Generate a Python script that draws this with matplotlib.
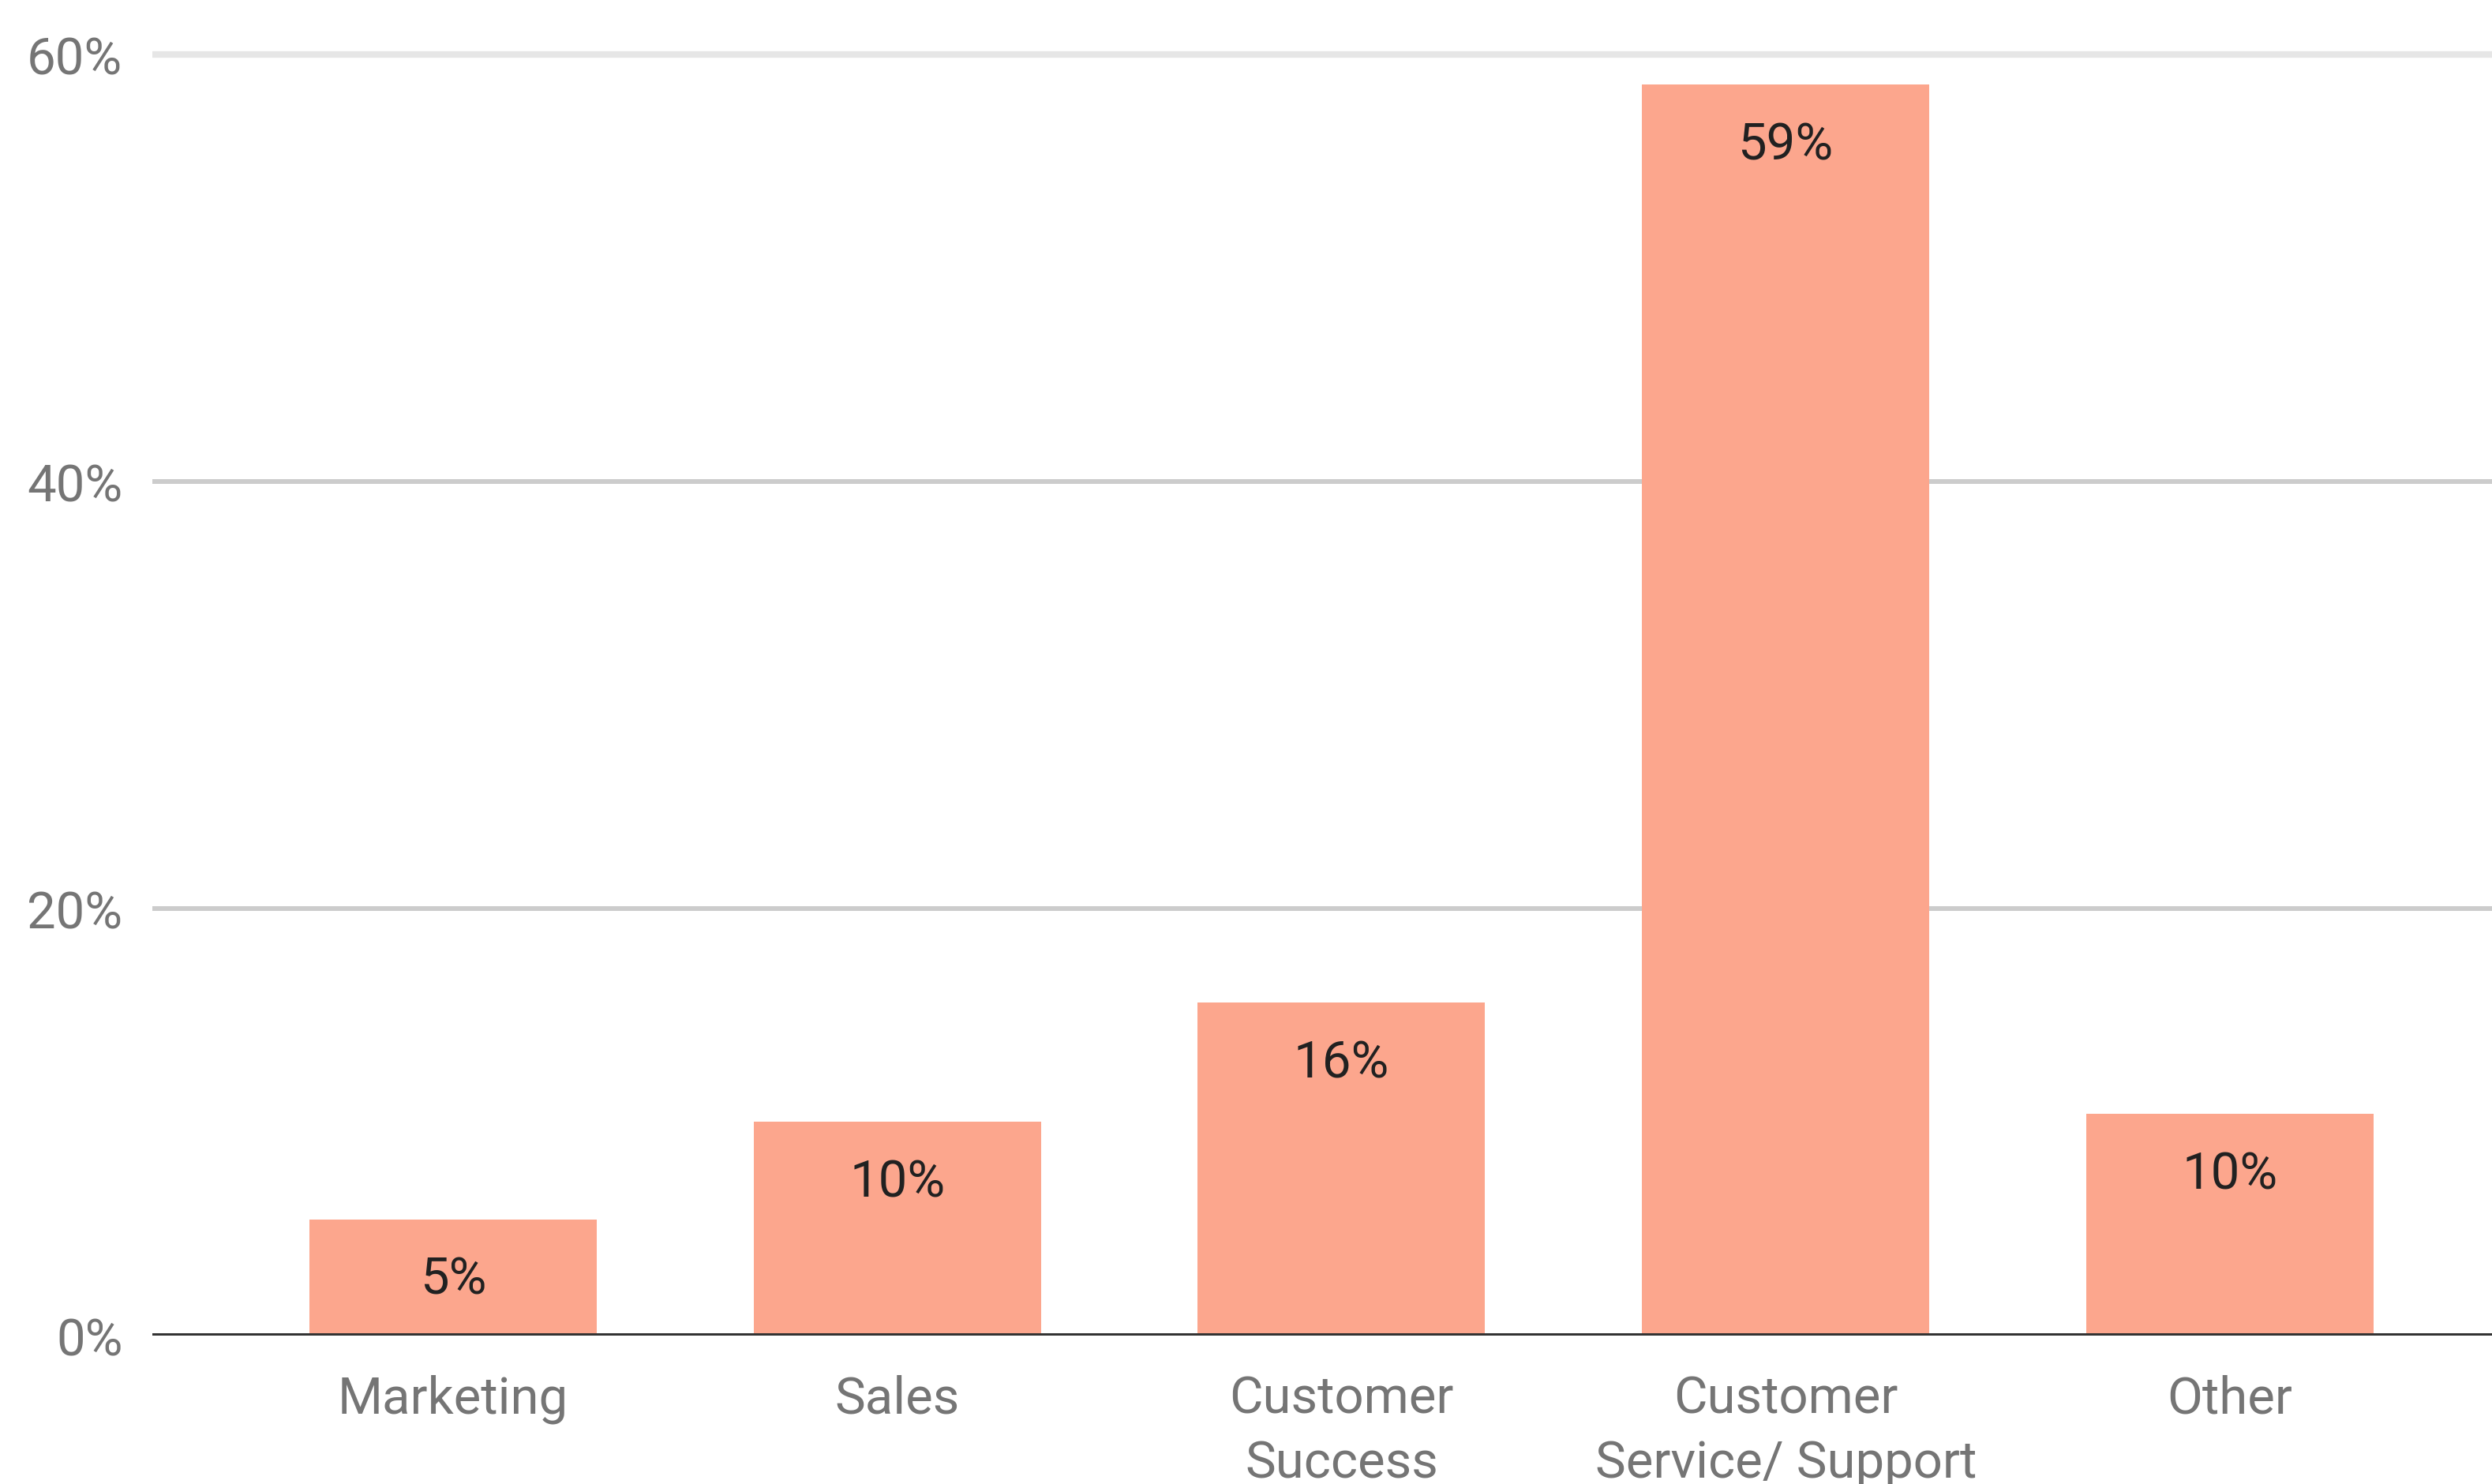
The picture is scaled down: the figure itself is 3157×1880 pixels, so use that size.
import matplotlib.pyplot as plt

categories = ["Marketing", "Sales", "Customer\nSuccess", "Customer\nService/ Support", "Other"]
values = [5.45, 10.0, 15.6, 58.6, 10.4]
labels = ["5%", "10%", "16%", "59%", "10%"]
yticks = [0, 20, 40, 60]
ytick_labels = ["0%", "20%", "40%", "60%"]

plt.rcParams["font.family"] = ["Roboto", "DejaVu Sans"]

fig = plt.figure(figsize=(31.57, 18.81), dpi=100)
ax = fig.add_axes([0.0611, 0.1000, 0.9389, 0.8770])

x = range(len(categories))
bars = ax.bar(x, values, width=0.647, color="#FCA68D", zorder=2)

for b, lab in zip(bars, labels):
    ax.annotate(lab, (b.get_x() + b.get_width() / 2, b.get_height()),
                xytext=(0, -68), textcoords="offset points",
                ha="center", va="baseline", fontsize=47, color="#212121", zorder=3)

# gridlines (top one is lighter)
ax.axhline(20, color="#cccccc", lw=4.3, zorder=1)
ax.axhline(40, color="#cccccc", lw=4.3, zorder=1)
ax.axhline(60, color="#e6e6e6", lw=6, zorder=1)
ax.axhline(0, color="#333333", lw=4.3, zorder=3)

ax.set_xlim(-0.677, 4.59)
ax.set_ylim(0, 61)
ax.set_xticks(list(x))
ax.set_xticklabels(categories, fontsize=47, color="#757575", linespacing=1.4)
ax.set_yticks(yticks)
ax.set_yticklabels(ytick_labels, fontsize=47, color="#757575")
ax.tick_params(axis="x", length=0, pad=35)
ax.tick_params(axis="y", length=0, pad=27)

for s in ax.spines.values():
    s.set_visible(False)

fig.savefig("out.png", dpi=100)
